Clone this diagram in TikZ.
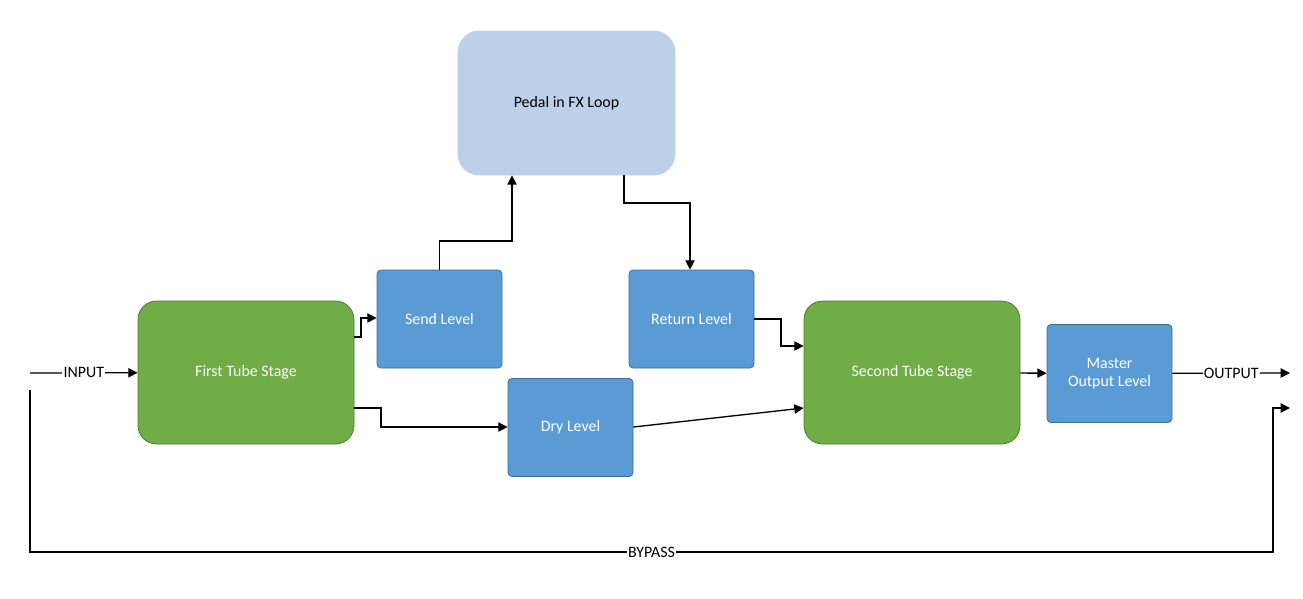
\documentclass[tikz,border=0pt]{standalone}
\usepackage{fontspec}
\setmainfont{Carlito}
\usetikzlibrary{arrows.meta}
\definecolor{lb}{HTML}{BDD0EA}
\definecolor{mb}{HTML}{5B9BD5}
\definecolor{gr}{HTML}{70AD47}
\begin{document}
\begin{tikzpicture}[x=0.0265cm,y=-0.0265cm,
  box/.style={draw=#1!70!black,fill=#1,line width=0.6pt,text=white,font=\large,align=center,inner sep=0pt},
  lvl/.style={box=mb,minimum width=125*0.0265cm,minimum height=98*0.0265cm,rounded corners=3pt},
  stage/.style={box=gr,minimum width=216*0.0265cm,minimum height=143*0.0265cm,rounded corners=14pt},
  ar/.style={line width=1pt,-{Triangle[length=7pt,width=7pt]}},
  lab/.style={fill=white,inner sep=1pt,font=\large}]
\useasboundingbox (0,0) rectangle (1303,599);
\node[box=lb,draw=lb,text=black,minimum width=217*0.0265cm,minimum height=144*0.0265cm,rounded corners=16pt] (pedal) at (566.5,103) {Pedal in FX Loop};
\node[lvl] (send) at (439.5,319) {Send Level};
\node[lvl] (ret) at (691.5,319) {Return Level};
\node[lvl] (dry) at (570.5,427.5) {Dry Level};
\node[lvl] (mast) at (1109.5,373.5) {Master\\Output Level};
\node[stage] (first) at (246,372.5) {First Tube Stage};
\node[stage] (second) at (912,372.5) {Second Tube Stage};
\coordinate (in) at (30,373);
\coordinate (out) at (1290,373);
\coordinate (bs) at (30,390);
\coordinate (be) at (1290,408);
\draw[ar] (in) -- node[lab]{INPUT} (first);
\draw[ar] (first.east |- 0,337) -| (361,318) -- (send.west |- 0,318);
\draw[ar] (first.east |- 0,408) -| (381,427) -- (dry.west |- 0,427);
\draw[ar] (send.north) |- (512,241) -- (pedal.south -| 512,0);
\draw[ar] (pedal.south -| 624,0) |- (690,203) -- (ret.north -| 690,0);
\draw[ar] (ret.east |- 0,319) -| (781,346) -- (second.west |- 0,346);
\draw[ar] (dry.east |- 0,427) -- (second.west |- 0,408);
\draw[ar] (second) -- (mast);
\draw[ar] (mast) -- node[lab]{OUTPUT} (out);
\draw[ar] (bs) |- node[lab,pos=0.75]{BYPASS} (1273,552) |- (be);
\end{tikzpicture}
\end{document}
